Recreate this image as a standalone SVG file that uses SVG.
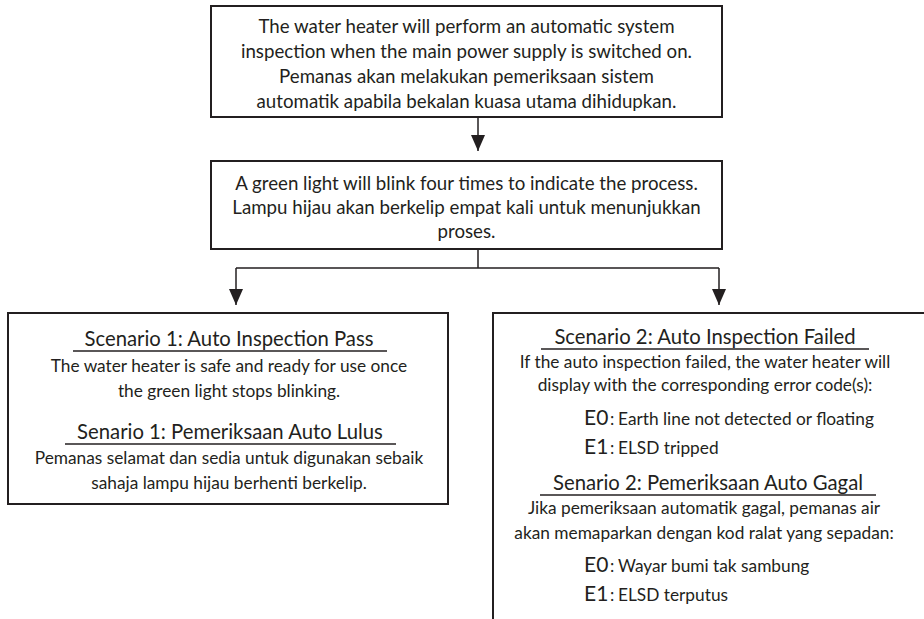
<svg xmlns="http://www.w3.org/2000/svg" width="924" height="619" viewBox="0 0 924 619">
<defs>
<style>
text { font-family: Lato, 'Liberation Sans', sans-serif; fill: #231f20; }
.t { font-size: 18.7px; text-anchor: middle; }
.b { font-size: 17.3px; text-anchor: middle; }
.h { font-size: 20.3px; text-anchor: middle; }
.c { font-size: 17.3px; }
.code { font-size: 21px; }
.box { fill: #ffffff; stroke: #231f20; stroke-width: 2; }
.ul { stroke: #231f20; stroke-width: 1.5; }
.conn { fill: none; stroke: #231f20; stroke-width: 1.5; }
</style>
<marker id="ah" viewBox="0 0 16 14" refX="16" refY="7" markerWidth="16" markerHeight="14" markerUnits="userSpaceOnUse" orient="auto">
<path d="M0,0 L16,7 L0,14 z" fill="#231f20"/>
</marker>
</defs>
<rect width="924" height="619" fill="#ffffff"/>

<g id="connectors">
<path class="conn" d="M478,117 V151" marker-end="url(#ah)"/>
<path class="conn" d="M478,249 V268 M236,268 H719"/>
<path class="conn" d="M236,268 V305" marker-end="url(#ah)"/>
<path class="conn" d="M719,268 V305" marker-end="url(#ah)"/>
</g>

<g id="node-start">
<rect class="box" x="211" y="6" width="511" height="111"/>
<text class="t" x="466.5" y="33">The water heater will perform an automatic system</text>
<text class="t" x="466.5" y="58">inspection when the main power supply is switched on.</text>
<text class="t" x="466.5" y="83">Pemanas akan melakukan pemeriksaan sistem</text>
<text class="t" x="466.5" y="108">automatik apabila bekalan kuasa utama dihidupkan.</text>
</g>

<g id="node-blink">
<rect class="box" x="211" y="161" width="511" height="88"/>
<text class="t" x="466.5" y="190">A green light will blink four times to indicate the process.</text>
<text class="t" x="466.5" y="214">Lampu hijau akan berkelip empat kali untuk menunjukkan</text>
<text class="t" x="466.5" y="238">proses.</text>
</g>

<g id="node-pass">
<rect class="box" x="8" y="313" width="440" height="191"/>
<text class="h" x="229" y="346">Scenario 1: Auto Inspection Pass</text>
<line class="ul" x1="73" y1="351" x2="387" y2="351"/>
<text class="b" x="229" y="372">The water heater is safe and ready for use once</text>
<text class="b" x="229" y="397">the green light stops blinking.</text>
<text class="h" x="230" y="439">Senario 1: Pemeriksaan Auto Lulus</text>
<line class="ul" x1="65" y1="444" x2="396" y2="444"/>
<text class="b" x="229" y="464">Pemanas selamat dan sedia untuk digunakan sebaik</text>
<text class="b" x="229" y="489">sahaja lampu hijau berhenti berkelip.</text>
</g>

<g id="node-fail">
<rect class="box" x="493" y="313" width="445" height="330"/>
<text class="h" x="705" y="344">Scenario 2: Auto Inspection Failed</text>
<line class="ul" x1="541" y1="349" x2="869" y2="349"/>
<text class="b" x="705" y="368">If the auto inspection failed, the water heater will</text>
<text class="b" x="705" y="391">display with the corresponding error code(s):</text>
<text class="c"><tspan class="code" x="584" y="425">E0</tspan><tspan x="610" y="425">:</tspan><tspan x="618" y="425">Earth line not detected or floating</tspan></text>
<text class="c"><tspan class="code" x="584" y="454">E1</tspan><tspan x="610" y="454">:</tspan><tspan x="618" y="454">ELSD tripped</tspan></text>
<text class="h" x="708" y="490">Senario 2: Pemeriksaan Auto Gagal</text>
<line class="ul" x1="540" y1="495" x2="876" y2="495"/>
<text class="b" x="704" y="514">Jika pemeriksaan automatik gagal, pemanas air</text>
<text class="b" x="704" y="539">akan memaparkan dengan kod ralat yang sepadan:</text>
<text class="c"><tspan class="code" x="584" y="572">E0</tspan><tspan x="610" y="572">:</tspan><tspan x="618" y="572">Wayar bumi tak sambung</tspan></text>
<text class="c"><tspan class="code" x="584" y="601">E1</tspan><tspan x="610" y="601">:</tspan><tspan x="618" y="601">ELSD terputus</tspan></text>
</g>
</svg>
